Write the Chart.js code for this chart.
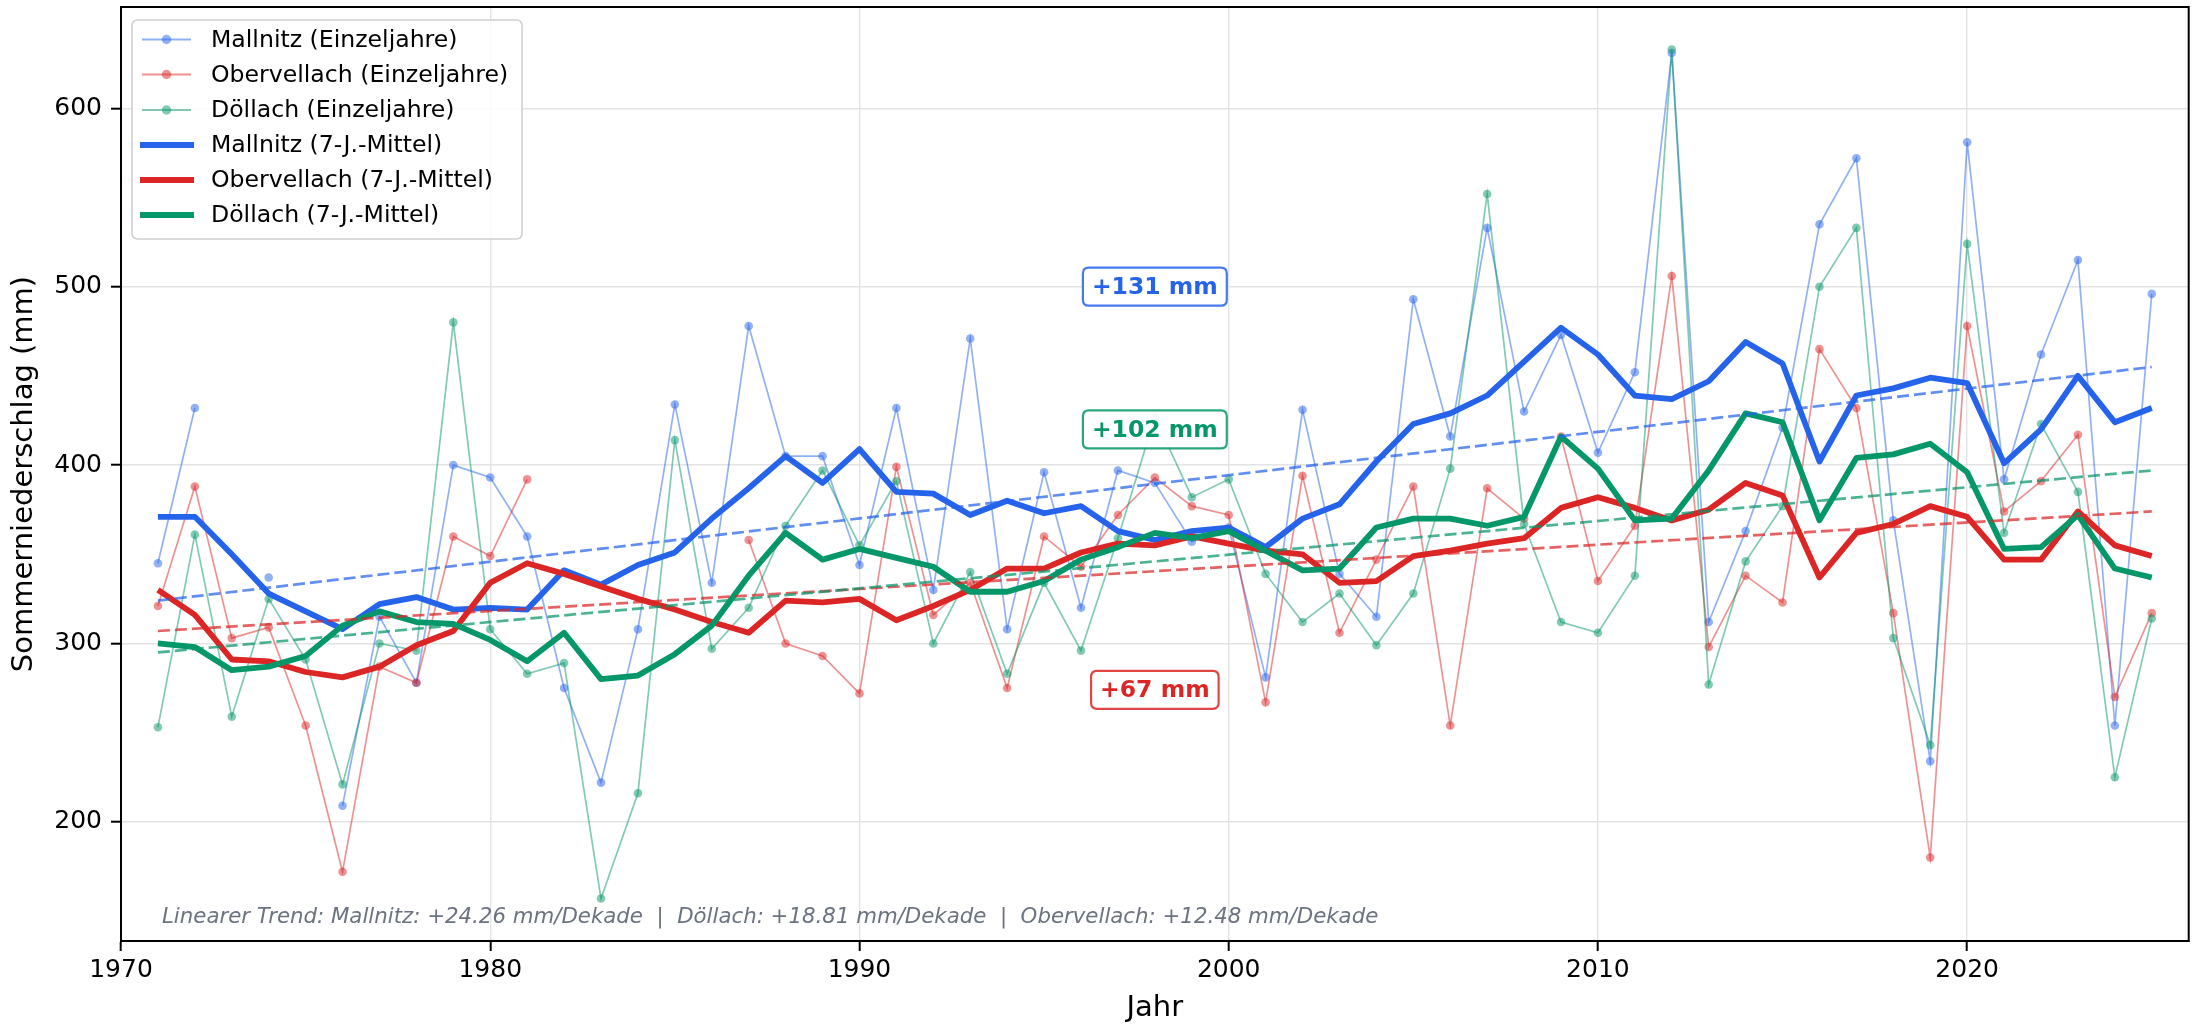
<!DOCTYPE html>
<html><head><meta charset="utf-8">
<script src="https://cdn.jsdelivr.net/npm/chart.js@4.4.0/dist/chart.umd.min.js"></script>
<style>html,body{margin:0;padding:0;background:#fff;overflow:hidden}canvas{display:block}</style>
</head><body>
<canvas id="c" width="2193" height="1028"></canvas>
<script>
// ---------- data ----------
const years = [1971,1972,1973,1974,1975,1976,1977,1978,1979,1980,
  1981,1982,1983,1984,1985,1986,1987,1988,1989,1990,
  1991,1992,1993,1994,1995,1996,1997,1998,1999,2000,
  2001,2002,2003,2004,2005,2006,2007,2008,2009,2010,
  2011,2012,2013,2014,2015,2016,2017,2018,2019,2020,
  2021,2022,2023,2024,2025];

const mallnitz = [345,432,null,337,null,209,315,278,400,393,
  360,275,222,308,434,334,478,405,405,344,
  432,330,471,308,396,320,397,390,357,365,
  281,431,339,315,493,416,533,430,473,407,
  452,631,312,363,421,535,572,369,234,581,
  392,462,515,254,496];

const obervellach = [321,388,303,309,254,172,287,278,360,349,
  392,null,null,null,null,null,358,300,293,272,
  399,316,334,275,360,343,372,393,377,372,
  267,394,306,347,388,254,387,370,416,335,
  366,506,298,338,323,465,432,317,180,478,
  374,391,417,270,317];

const doellach = [253,361,259,325,291,221,300,296,480,308,
  283,289,157,216,414,297,320,366,397,355,
  391,300,340,283,334,296,359,427,382,392,
  339,312,328,299,328,398,552,367,312,306,
  338,633,277,346,377,500,533,303,243,524,
  362,423,385,225,314];

const maMallnitz = [371,371,350,328,318,308,322,326,319,320,
  319,341,333,344,351,370,387,405,390,409,
  385,384,372,380,373,377,363,358,363,365,
  354,370,378,402,423,429,439,458,477,462,
  439,437,447,469,457,402,439,443,449,446,
  401,420,450,424,432];

const maObervellach = [330,316,291,290,284,281,287,299,307,334,
  345,339,332,325,319,312,306,324,323,325,
  313,321,330,342,342,351,356,355,360,356,
  352,350,334,335,349,352,356,359,376,382,
  376,369,375,390,383,337,362,367,377,371,
  347,347,374,355,349];

const maDoellach = [300,298,285,287,293,310,318,312,311,302,
  290,306,280,282,294,310,338,362,347,353,
  348,343,329,329,335,347,354,362,359,363,
  352,341,342,365,370,370,366,371,416,398,
  369,370,397,429,424,369,404,406,412,396,
  353,354,372,342,337];

const trendYears = [1971, 2025];
const trendMallnitz = [324, 455];
const trendObervellach = [307, 374];
const trendDoellach = [295, 397];

const annLabels = ['+131 mm', '+102 mm', '+67 mm'];
const annYears = [1998, 1998, 1998];
const annValues = [500, 420, 274];

const xTicks = [1970, 1980, 1990, 2000, 2010, 2020];
const yTicks = [200, 300, 400, 500, 600];

const legendLabels = ['Mallnitz (Einzeljahre)', 'Obervellach (Einzeljahre)', 'Döllach (Einzeljahre)',
  'Mallnitz (7-J.-Mittel)', 'Obervellach (7-J.-Mittel)', 'Döllach (7-J.-Mittel)'];
const footText = 'Linearer Trend: Mallnitz: +24.26 mm/Dekade  |  Döllach: +18.81 mm/Dekade  |  Obervellach: +12.48 mm/Dekade';

// ---------- styling ----------
const C = { b: [37,99,235], r: [220,38,38], g: [5,150,105] };
const rgba = (c, a) => `rgba(${c[0]},${c[1]},${c[2]},${a})`;
const FONT = "'DejaVu Sans', 'Liberation Sans', sans-serif";
const pts = (xs, ys) => xs.map((x, i) => ({ x: x, y: ys[i] }));

function thin(label, vals, c, order) {
  return { label, data: pts(years, vals), borderColor: rgba(c, 0.5), backgroundColor: rgba(c, 0.5),
    borderWidth: 1.7, pointRadius: 4.3, pointBorderWidth: 0, pointBackgroundColor: rgba(c, 0.5),
    pointHoverRadius: 4.3, spanGaps: false, tension: 0, order };
}
function ma(label, vals, c, order) {
  return { label, data: pts(years, vals), borderColor: rgba(c, 1), borderWidth: 5.8,
    pointRadius: 0, tension: 0, borderJoinStyle: 'round', borderCapStyle: 'butt', order };
}
function trend(label, vals, c, order) {
  return { label, data: pts(trendYears, vals), borderColor: rgba(c, 0.72), borderWidth: 2.7,
    borderDash: [12, 5], pointRadius: 0, tension: 0, order };
}

const datasets = [
  thin('Mallnitz (Einzeljahre)', mallnitz, C.b, 39),
  thin('Obervellach (Einzeljahre)', obervellach, C.r, 38),
  thin('Döllach (Einzeljahre)', doellach, C.g, 37),
  ma('Mallnitz (7-J.-Mittel)', maMallnitz, C.b, 29),
  ma('Obervellach (7-J.-Mittel)', maObervellach, C.r, 28),
  ma('Döllach (7-J.-Mittel)', maDoellach, C.g, 27),
  trend('Trend Mallnitz', trendMallnitz, C.b, 19),
  trend('Trend Obervellach', trendObervellach, C.r, 18),
  trend('Trend Döllach', trendDoellach, C.g, 17)
];

function roundRect(ctx, x, y, w, h, r) {
  ctx.beginPath();
  ctx.moveTo(x + r, y);
  ctx.lineTo(x + w - r, y); ctx.quadraticCurveTo(x + w, y, x + w, y + r);
  ctx.lineTo(x + w, y + h - r); ctx.quadraticCurveTo(x + w, y + h, x + w - r, y + h);
  ctx.lineTo(x + r, y + h); ctx.quadraticCurveTo(x, y + h, x, y + h - r);
  ctx.lineTo(x, y + r); ctx.quadraticCurveTo(x, y, x + r, y);
  ctx.closePath();
}

const decor = {
  id: 'decor',
  afterDatasetsDraw(chart) {
    const ctx = chart.ctx, a = chart.chartArea;
    const xs = chart.scales.x, ys = chart.scales.y;
    ctx.save();
    // frame
    ctx.strokeStyle = '#000'; ctx.lineWidth = 2;
    ctx.strokeRect(a.left, a.top, a.right - a.left, a.bottom - a.top);

    // footnote
    ctx.font = `italic 21.3px ${FONT}`;
    ctx.fillStyle = '#6b7280';
    ctx.textAlign = 'left'; ctx.textBaseline = 'alphabetic';
    ctx.fillText(footText, a.left + 41, 923);

    // annotations
    const annColors = [C.b, C.g, C.r];
    ctx.font = `bold 23.5px ${FONT}`;
    annLabels.forEach((t, i) => {
      const px = xs.getPixelForValue(annYears[i]);
      const py = ys.getPixelForValue(annValues[i]);
      const w = ctx.measureText(t).width + 18, h = 38;
      roundRect(ctx, px - w / 2, py - h / 2, w, h, 6);
      ctx.fillStyle = 'rgba(255,255,255,0.92)'; ctx.fill();
      ctx.strokeStyle = rgba(annColors[i], 0.85); ctx.lineWidth = 2.2; ctx.stroke();
      ctx.fillStyle = rgba(annColors[i], 1);
      ctx.textAlign = 'center'; ctx.textBaseline = 'middle';
      ctx.fillText(t, px, py + 1);
    });

    // legend
    roundRect(ctx, 132, 20, 390, 219, 6);
    ctx.fillStyle = 'rgba(255,255,255,0.85)'; ctx.fill();
    ctx.strokeStyle = '#d0d0d0'; ctx.lineWidth = 1.6; ctx.stroke();
    const rows = [39.5, 74.5, 110, 145, 180, 215];
    const cols = [C.b, C.r, C.g, C.b, C.r, C.g];
    ctx.font = `23.6px ${FONT}`;
    legendLabels.forEach((t, i) => {
      const y = rows[i];
      if (i < 3) {
        ctx.strokeStyle = rgba(cols[i], 0.5); ctx.lineWidth = 2;
        ctx.beginPath(); ctx.moveTo(142, y); ctx.lineTo(191, y); ctx.stroke();
        ctx.fillStyle = rgba(cols[i], 0.5);
        ctx.beginPath(); ctx.arc(166.5, y, 4.7, 0, Math.PI * 2); ctx.fill();
      } else {
        ctx.strokeStyle = rgba(cols[i], 1); ctx.lineWidth = 6;
        ctx.beginPath(); ctx.moveTo(140, y); ctx.lineTo(194, y); ctx.stroke();
      }
      ctx.fillStyle = '#000'; ctx.textAlign = 'left'; ctx.textBaseline = 'middle';
      ctx.fillText(t, 211, y + 1);
    });
    ctx.restore();
  }
};

new Chart(document.getElementById('c'), {
  type: 'line',
  data: { datasets },
  plugins: [decor],
  options: {
    responsive: false, animation: false, devicePixelRatio: 1,
    layout: { padding: { top: 7, right: 1, left: 0, bottom: 0 } },
    plugins: { legend: { display: false }, tooltip: { enabled: false } },
    scales: {
      x: {
        type: 'linear', min: 1970, max: 2026,
        afterBuildTicks: s => { s.ticks = xTicks.map(v => ({ value: v })); },
        afterFit: s => { s.height = 87; s.paddingLeft = 0; s.paddingRight = 0; },
        ticks: { font: { family: FONT, size: 25 }, color: '#000', padding: 4, maxRotation: 0, autoSkip: false,
          callback: v => String(v) },
        grid: { color: '#e3e3e3', lineWidth: 1.4, tickColor: '#000', tickLength: 10, tickWidth: 2, drawTicks: true },
        border: { display: true, color: '#000', width: 2 },
        title: { display: true, text: 'Jahr', color: '#000', font: { family: FONT, size: 29 }, padding: { top: 0, bottom: 2 } }
      },
      y: {
        type: 'linear', min: 133.2, max: 656.8,
        afterBuildTicks: s => { s.ticks = yTicks.map(v => ({ value: v })); },
        afterFit: s => { s.width = 121; s.paddingTop = 0; s.paddingBottom = 0; },
        ticks: { font: { family: FONT, size: 25 }, color: '#000', padding: 9, callback: v => String(v) },
        grid: { color: '#e3e3e3', lineWidth: 1.4, tickColor: '#000', tickLength: 10, tickWidth: 2, drawTicks: true },
        border: { display: true, color: '#000', width: 2 },
        title: { display: true, text: 'Sommerniederschlag (mm)', color: '#000', font: { family: FONT, size: 29 }, padding: { top: 7, bottom: 0 } }
      }
    }
  }
});
</script>
</body></html>
